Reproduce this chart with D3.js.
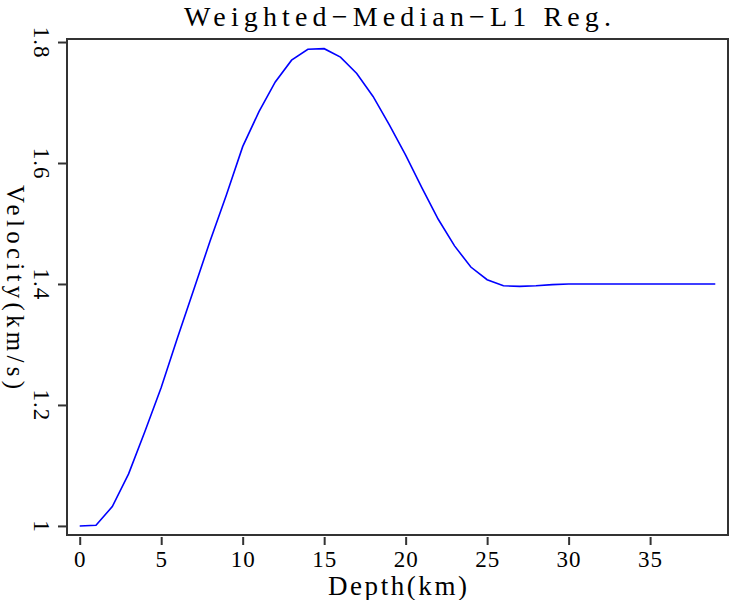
<!DOCTYPE html>
<html>
<head>
<meta charset="utf-8">
<script src="https://cdn.jsdelivr.net/npm/d3@7"></script>
<style>
body { margin: 0; background: #fff; }
text { font-family: "Liberation Serif", serif; fill: #000; }
</style>
</head>
<body>
<div id="chart"></div>
<script>
// values
const depth = [0, 1, 2, 3, 4, 5, 6, 7, 8, 9, 10, 11, 12, 13, 14, 15, 16, 17, 18, 19,
	20, 21, 22, 23, 24, 25, 26, 27, 28, 29, 30, 31, 32, 33, 34, 35, 36, 37, 38, 39];
const velocity = [1.000, 1.001, 1.032, 1.086, 1.156, 1.229, 1.311, 1.391, 1.471, 1.547,
	1.627, 1.685, 1.734, 1.770, 1.788, 1.789, 1.775, 1.748, 1.710, 1.663,
	1.613, 1.559, 1.507, 1.463, 1.428, 1.407, 1.397, 1.396, 1.397, 1.399,
	1.400, 1.400, 1.400, 1.400, 1.400, 1.400, 1.400, 1.400, 1.400, 1.400];
const xTicks = [0, 5, 10, 15, 20, 25, 30, 35];
const yTicks = [1, 1.2, 1.4, 1.6, 1.8];
const yTickLabels = ["1", "1.2", "1.4", "1.6", "1.8"];
const title = "Weighted\u2212Median\u2212L1 Reg.";
const xLabel = "Depth(km)";
const yLabel = "Velocity(km/s)";

const width = 731, height = 600;
const frame = {left: 67, right: 728, top: 39, bottom: 535};

const svg = d3.select("#chart")
	.append("svg")
	.attr("width", width)
	.attr("height", height);

const xScale = d3.scaleLinear()
	.domain([-0.78, 39.78])
	.range([frame.left, frame.right]);

const yScale = d3.scaleLinear()
	.domain([0.985, 1.805])
	.range([frame.bottom, frame.top]);

// axes
const xAxis = d3.axisBottom(xScale)
	.tickValues(xTicks)
	.tickSize(8)
	.tickSizeOuter(0)
	.tickPadding(6);

const gx = svg.append("g")
	.attr("transform", "translate(0," + (frame.bottom + 2) + ")")
	.call(xAxis);
gx.select(".domain").remove();
gx.selectAll("line").attr("stroke", "#333").attr("stroke-width", 2);
gx.selectAll("text")
	.style("font-size", "23px")
	.style("letter-spacing", "1px")
	.attr("fill", "#000");

const yAxis = d3.axisLeft(yScale)
	.tickValues(yTicks)
	.tickFormat((d, i) => yTickLabels[i])
	.tickSize(8)
	.tickSizeOuter(0);

const gy = svg.append("g")
	.attr("transform", "translate(" + (frame.left - 1) + ",0)")
	.call(yAxis);
gy.select(".domain").remove();
gy.selectAll("line").attr("stroke", "#333").attr("stroke-width", 2);
gy.selectAll("text")
	.attr("x", 0)
	.attr("dy", null)
	.attr("text-anchor", "middle")
	.attr("dominant-baseline", "central")
	.attr("transform", "translate(-25,0) rotate(90)")
	.style("font-size", "23px")
	.style("letter-spacing", "1px")
	.attr("fill", "#000");

// frame
svg.append("rect")
	.attr("x", frame.left)
	.attr("y", frame.top)
	.attr("width", frame.right - frame.left)
	.attr("height", frame.bottom - frame.top)
	.attr("fill", "none")
	.attr("stroke", "#333")
	.attr("stroke-width", 2);

// curve
const line = d3.line()
	.x((d, i) => xScale(depth[i]))
	.y((d) => yScale(d));

svg.append("path")
	.datum(velocity)
	.attr("d", line)
	.attr("fill", "none")
	.attr("stroke", "#0000ff")
	.attr("stroke-width", 1.6);

// titles
svg.append("text")
	.attr("x", (frame.left + frame.right) / 2)
	.attr("y", 26)
	.attr("text-anchor", "middle")
	.attr("textLength", 427)
	.attr("lengthAdjust", "spacing")
	.style("font-size", "28px")
	.text(title);

svg.append("text")
	.attr("x", (frame.left + frame.right) / 2)
	.attr("y", 595)
	.attr("text-anchor", "middle")
	.attr("textLength", 139)
	.attr("lengthAdjust", "spacing")
	.style("font-size", "27px")
	.text(xLabel);

svg.append("text")
	.attr("transform", "translate(15," + (frame.top + frame.bottom) / 2 + ") rotate(90)")
	.attr("text-anchor", "middle")
	.attr("dominant-baseline", "central")
	.attr("textLength", 204)
	.attr("lengthAdjust", "spacing")
	.style("font-size", "25px")
	.text(yLabel);
</script>
</body>
</html>
